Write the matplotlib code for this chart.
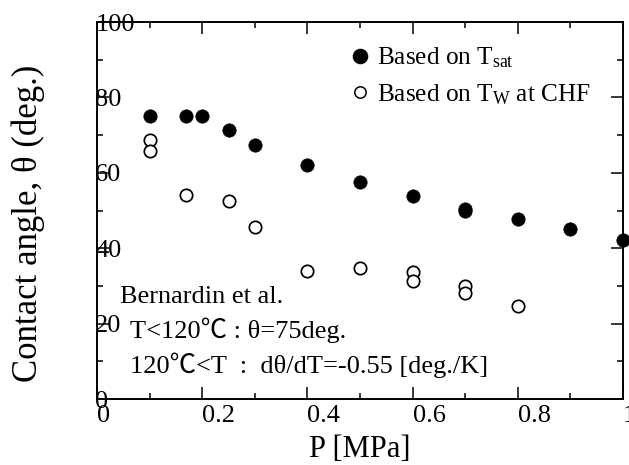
import matplotlib
matplotlib.use("Agg")
import matplotlib.pyplot as plt
from matplotlib.lines import Line2D
from matplotlib.ticker import MultipleLocator

plt.rcParams['font.family'] = ['Liberation Serif', 'Noto Sans CJK JP', 'DejaVu Serif']
plt.rcParams['mathtext.fontset'] = 'custom'
plt.rcParams['mathtext.rm'] = 'Liberation Serif'
plt.rcParams['mathtext.it'] = 'Liberation Serif:italic'

# Data
p_sat = [0.10, 0.17, 0.20, 0.25, 0.30, 0.40, 0.50, 0.60, 0.70, 0.70, 0.80, 0.90, 1.00]
theta_sat = [75.1, 75.1, 75.1, 71.3, 67.5, 62.0, 57.6, 53.8, 50.4, 49.8, 47.7, 45.0, 42.2]

p_w = [0.10, 0.10, 0.17, 0.25, 0.30, 0.40, 0.50, 0.60, 0.60, 0.70, 0.70, 0.80]
theta_w = [68.7, 65.7, 54.0, 52.5, 45.5, 34.0, 34.7, 33.8, 31.4, 30.0, 28.2, 24.6]

x_ticks = [0, 0.2, 0.4, 0.6, 0.8, 1.0]
x_tick_labels = ['0', '0.2', '0.4', '0.6', '0.8', '1']
y_ticks = [0, 20, 40, 60, 80, 100]
y_tick_labels = ['0', '20', '40', '60', '80', '100']

label_sat = r'Based on T$_{\rm sat}$'
label_w = r'Based on T$_{\rm W}$ at CHF'
note_lines = ['Bernardin et al.',
              'T<120\u2103 : \u03b8=75deg.',
              '120\u2103<T  :  d\u03b8/dT=-0.55 [deg./K]']

fig = plt.figure(figsize=(6.29, 4.65), dpi=100)
ax = fig.add_axes([97/629, 1-399/465, (623-97)/629, (399-22)/465])

ax.plot(p_sat, theta_sat, linestyle='none', marker='o', markersize=9.6,
        markerfacecolor='black', markeredgecolor='black', markeredgewidth=0.5,
        clip_on=False, zorder=3)
ax.plot(p_w, theta_w, linestyle='none', marker='o', markersize=8.9,
        markerfacecolor='white', markeredgecolor='black', markeredgewidth=1.25,
        clip_on=False, zorder=3)

ax.set_xlim(0, 1)
ax.set_ylim(0, 100)
ax.set_xticks(x_ticks)
ax.set_xticklabels(x_tick_labels)
ax.set_yticks(y_ticks)
ax.set_yticklabels(y_tick_labels)
ax.xaxis.set_minor_locator(MultipleLocator(0.1))
ax.yaxis.set_minor_locator(MultipleLocator(10))

for s in ax.spines.values():
    s.set_linewidth(1.4)
ax.tick_params(which='both', direction='in', top=True, right=True, width=1.1)
ax.tick_params(which='major', length=8.4)
ax.tick_params(which='minor', length=4.3)
ax.tick_params(axis='x', which='major', labelsize=19, pad=4.5)
ax.tick_params(axis='y', which='major', labelsize=19, pad=1.2)
plt.setp(ax.get_xticklabels(), ha='left')
plt.setp(ax.get_yticklabels(), ha='left')

ax.set_xlabel('P [MPa]', fontsize=22)
ax.xaxis.set_label_coords(0.5, -0.096)
ax.set_ylabel('Contact angle, \u03b8 (deg.)', fontsize=25)
ax.yaxis.set_label_coords(-0.099, 0.467)

handles = [Line2D([], [], linestyle='none', marker='o', markersize=10.2,
                  markerfacecolor='black', markeredgecolor='black'),
           Line2D([], [], linestyle='none', marker='o', markersize=8.2,
                  markerfacecolor='white', markeredgecolor='black', markeredgewidth=1.1)]
ax.legend(handles, [label_sat, label_w], loc='upper left',
          bbox_to_anchor=(0.48, 0.937), frameon=False, fontsize=18.2,
          borderpad=0, borderaxespad=0, handlelength=0.85, handletextpad=0.25,
          labelspacing=0.46)

note_x = [0.044, 0.063, 0.063]
note_y = [25.5, 16.2, 6.9]
for tx, ty, t in zip(note_x, note_y, note_lines):
    ax.text(tx, ty, t, fontsize=19, ha='left', va='baseline')

fig.savefig('out.png', dpi=100)
